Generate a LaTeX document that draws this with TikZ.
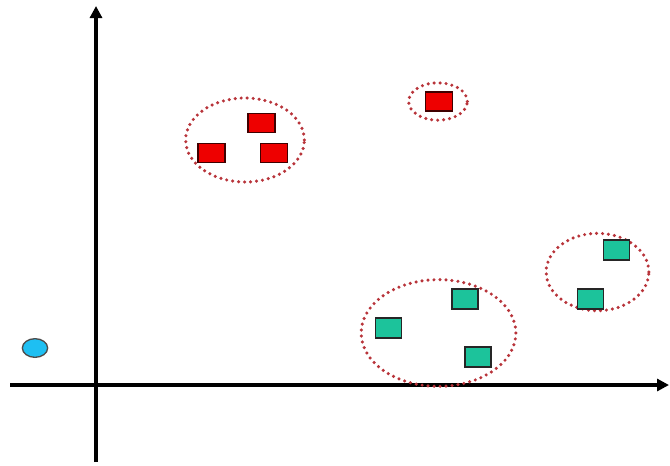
\documentclass[tikz,border=0pt]{standalone}
\usetikzlibrary{shapes.geometric,arrows.meta}
\definecolor{redsq}{HTML}{EE0000}
\definecolor{tealsq}{HTML}{1CC39B}
\definecolor{bluept}{HTML}{1EBFF2}
\definecolor{dotred}{HTML}{B8343A}
\tikzset{
  axis/.style={line width=2.4pt,-{Triangle[length=9pt,width=9pt]}},
  redbox/.style={draw=black!75!red,line width=1.1pt,fill=redsq,minimum width=20pt,minimum height=14.5pt,inner sep=0pt},
  tealbox/.style={draw=black!85,line width=1.1pt,fill=tealsq,minimum width=19.5pt,minimum height=15pt,inner sep=0pt},
  cluster/.style={ellipse,draw=dotred,line width=2.6pt,line cap=round,dash pattern=on 0pt off 4.5pt,inner sep=0pt},
  point/.style={ellipse,draw=black!70,line width=1pt,fill=bluept,minimum width=19pt,minimum height=14pt,inner sep=0pt}
}
\begin{document}
\begin{tikzpicture}[x=0.75pt,y=-0.75pt]
\useasboundingbox (0,0) rectangle (670,465);
% axes
\coordinate (ybot) at (96,462);
\coordinate (ytop) at (96,6);
\coordinate (xl) at (10,385);
\coordinate (xr) at (669,385);
\draw[axis] (xl) -- (xr);
\draw[axis] (ybot) -- (ytop);
% clusters
\node[cluster,minimum width=89pt,minimum height=63pt] (c1) at (245,140) {};
\node[cluster,minimum width=44pt,minimum height=28pt] (c2) at (438,101.5) {};
\node[cluster,minimum width=116pt,minimum height=80pt] (c3) at (438.5,333) {};
\node[cluster,minimum width=77pt,minimum height=58pt] (c4) at (597.5,272) {};
% red squares
\node[redbox] (r1) at (261.5,123) {};
\node[redbox] (r2) at (211.5,153) {};
\node[redbox] (r3) at (274,153) {};
\node[redbox] (r4) at (439,101.5) {};
% teal squares
\node[tealbox] (t1) at (465,299) {};
\node[tealbox] (t2) at (388.5,328) {};
\node[tealbox] (t3) at (478,357) {};
\node[tealbox] (t4) at (616.5,250) {};
\node[tealbox] (t5) at (590.5,299) {};
% blue point
\node[point] (p) at (35,348) {};
\end{tikzpicture}
\end{document}
